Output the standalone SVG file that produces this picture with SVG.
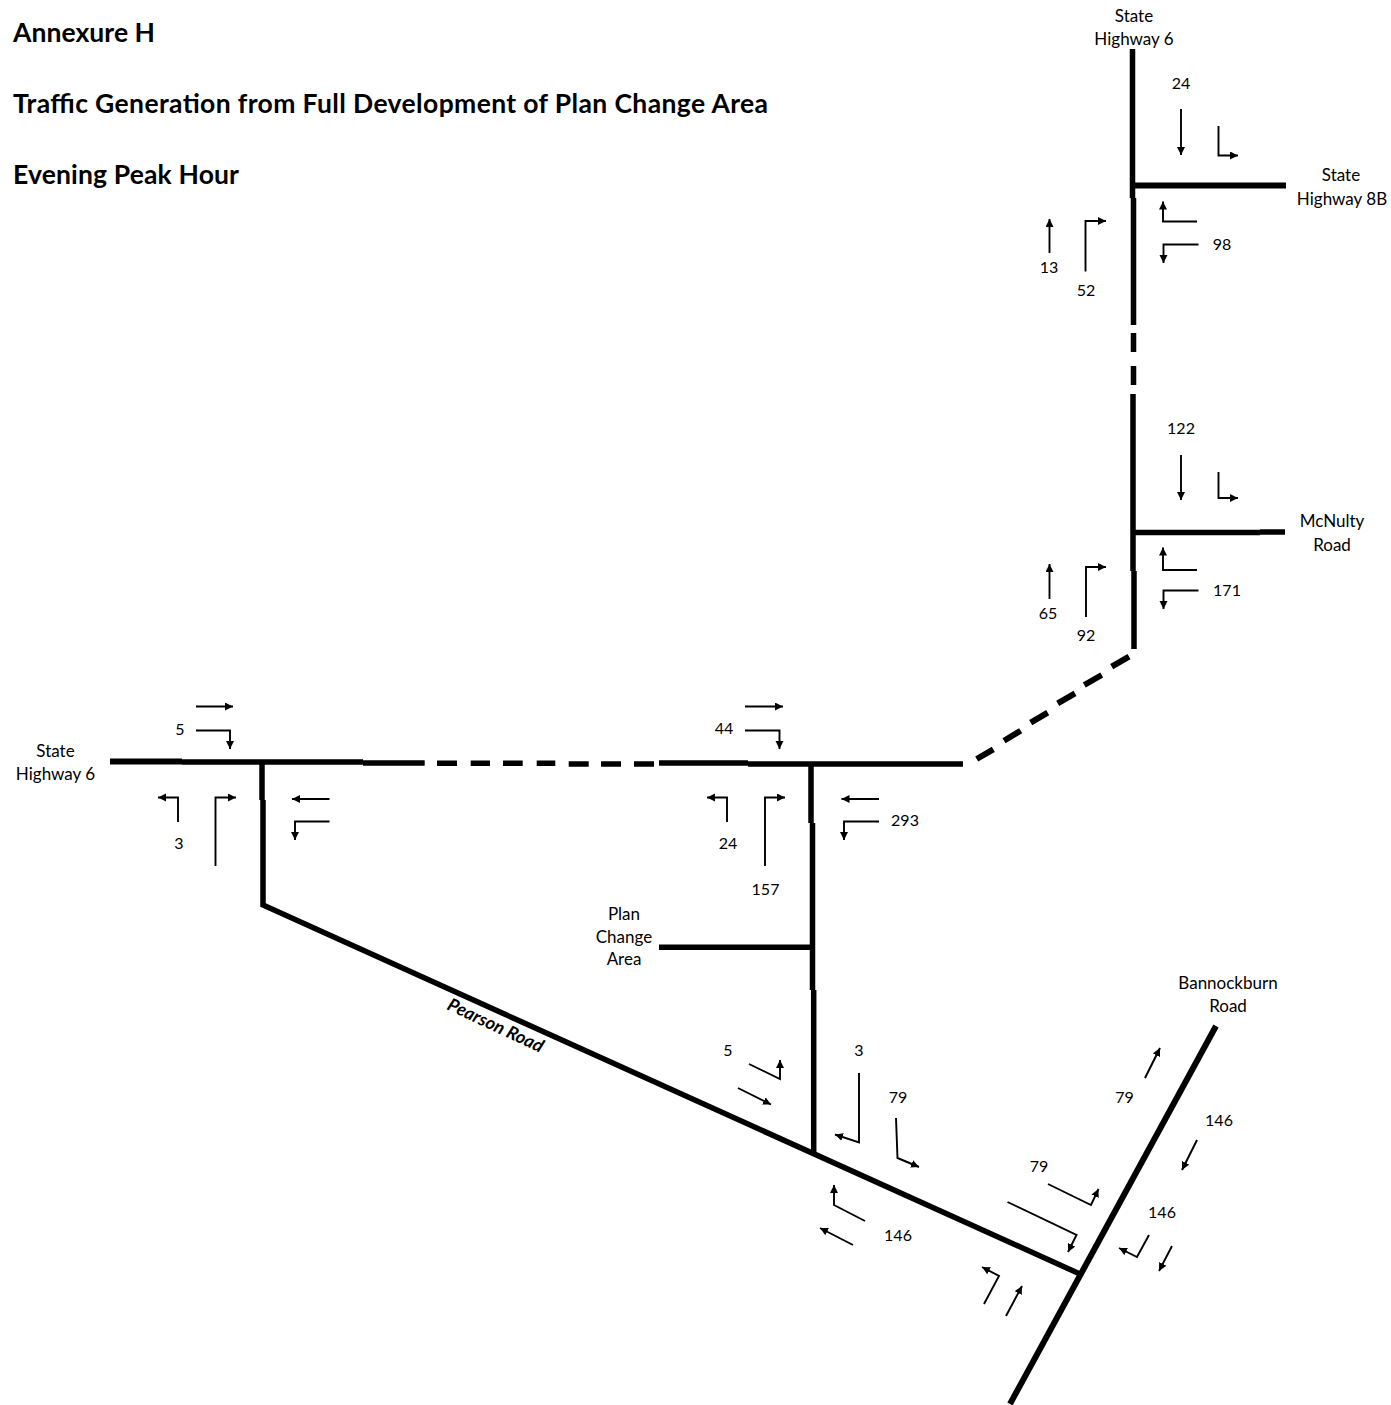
<svg xmlns="http://www.w3.org/2000/svg" width="1391" height="1405" viewBox="0 0 1391 1405">
<style>
text{font-family:"Lato","Open Sans","Liberation Sans",sans-serif;fill:#000}
.h{font-size:26.5px;font-weight:700}
.l{font-size:16px;text-anchor:middle}
.w{font-size:17px;text-anchor:middle}
.p{font-size:18px;font-weight:700;font-style:italic;text-anchor:middle}
.r{fill:none;stroke:#000;stroke-width:5.5}
.t{stroke-width:6}
.a{fill:none;stroke:#000;stroke-width:1.9;marker-end:url(#ah)}
</style>
<defs>
<marker id="ah" markerUnits="userSpaceOnUse" markerWidth="9" markerHeight="9" refX="8" refY="4" orient="auto"><path d="M0,0L8,4L0,8z" fill="#000"/></marker>
</defs>
<rect width="1391" height="1405" fill="#fff"/>
<g id="title">
<text class="h" x="13" y="42" textLength="142">Annexure H</text>
<text class="h" x="13" y="113" textLength="755">Traffic Generation from Full Development of Plan Change Area</text>
<text class="h" x="13" y="184" textLength="226">Evening Peak Hour</text>
</g>
<g id="connectors">
<path class="r" d="M1132.5,49V198M1133.5,198V325M1133.5,333V352M1133.5,366V385M1133,394V571M1134,571V649"/>
<path class="r t" d="M1133,185.5H1286"/>
<path class="r" d="M1133,532.5H1260M1260,532H1285"/>
<path class="r t" d="M976.7,759L993.3,749.3M1004,740.7L1020.7,730.7M1030.7,722.7L1047.7,712.7M1057.7,703.3L1075,693.3M1084.3,685L1101.7,675M1111.7,666.7L1129,656.7"/>
<path class="r t" d="M110,761.5H182"/>
<path class="r" d="M182,762H363M363,763H424.7M437,763.3H457M470.7,763.3H490M503,763.3H522.7M536.7,763.3H555.3M568.7,764H588.7M601,764H621M634,764H654M659,763H748M748,764H963"/>
<path class="r" d="M262,763V800M263,800V905L1080,1274"/>
<path class="r" d="M811,764V823M812.5,823V990M813.7,990V1153M659,947.3H812"/>
<path class="r t" d="M1216,1026L1010,1404"/>
</g>
<g id="junction-sh8b">
<path class="a" d="M1181,109V155"/>
<path class="a" d="M1218.5,126V155.5H1238"/>
<path class="a" d="M1197,221.5H1163V201.5"/>
<path class="a" d="M1198.5,244.5H1163.5V263"/>
<path class="a" d="M1049.5,253V219"/>
<path class="a" d="M1085.5,271.5V221H1106"/>
<text class="w" x="1134" y="22">State</text><text class="w" x="1134" y="45">Highway 6</text>
<text class="l" x="1181" y="89">24</text>
<text class="w" x="1341" y="181">State</text><text class="w" x="1342" y="205">Highway 8B</text>
<text class="l" x="1222" y="250">98</text><text class="l" x="1049" y="273">13</text><text class="l" x="1086" y="296">52</text>
</g>
<g id="junction-mcnulty">
<path class="a" d="M1181,455V500"/>
<path class="a" d="M1218.5,472V498H1238"/>
<path class="a" d="M1197,570H1163V547.5"/>
<path class="a" d="M1198.5,590.5H1163.5V609"/>
<path class="a" d="M1049.5,599V564"/>
<path class="a" d="M1086,617V567H1106"/>
<text class="l" x="1181" y="434">122</text>
<text class="w" x="1332" y="527">McNulty</text><text class="w" x="1332" y="550.5">Road</text>
<text class="l" x="1227" y="595.5">171</text><text class="l" x="1048" y="618.5">65</text><text class="l" x="1086" y="641">92</text>
</g>
<g id="junction-west">
<path class="a" d="M196,706.5H233"/>
<path class="a" d="M196,730.5H230V749"/>
<path class="a" d="M178,822V797.5H158"/>
<path class="a" d="M215.5,866V797.5H236"/>
<path class="a" d="M329.5,799H292"/>
<path class="a" d="M329.5,821.5H295V840"/>
<text class="l" x="180" y="734.5">5</text>
<text class="w" x="55.5" y="757">State</text><text class="w" x="55.5" y="780">Highway 6</text>
<text class="l" x="179" y="849">3</text>
</g>
<g id="junction-middle">
<path class="a" d="M745,706.5H783"/>
<path class="a" d="M745,730.5H779.5V749"/>
<path class="a" d="M727,822V797.5H707"/>
<path class="a" d="M765,866V797.5H785"/>
<path class="a" d="M879,799H841.5"/>
<path class="a" d="M879,821.5H844V840"/>
<text class="l" x="724" y="734">44</text><text class="l" x="728" y="849">24</text>
<text class="l" x="905" y="826">293</text><text class="l" x="765.5" y="895">157</text>
</g>
<g id="plan-change-area">
<text class="w" x="624" y="920">Plan</text><text class="w" x="624" y="943">Change</text><text class="w" x="624" y="965">Area</text>
</g>
<g id="pearson-road">
<text class="p" transform="translate(493,1031) rotate(25)">Pearson Road</text>
</g>
<g id="junction-pearson">
<path class="a" d="M749,1064L780,1079V1060"/>
<path class="a" d="M738,1088L771,1104.5"/>
<path class="a" d="M859,1073V1142.5L835,1134.5"/>
<path class="a" d="M896,1118L897.5,1158L919,1167"/>
<path class="a" d="M865,1221L834,1205V1185"/>
<path class="a" d="M853,1245L820,1228"/>
<text class="l" x="728" y="1056">5</text><text class="l" x="859" y="1056">3</text>
<text class="l" x="898" y="1103">79</text><text class="l" x="898" y="1241">146</text>
</g>
<g id="junction-bannockburn">
<path class="a" d="M1048,1184L1091,1205L1098.5,1189"/>
<path class="a" d="M1007.5,1202L1076.5,1235L1068,1252"/>
<path class="a" d="M984,1304L999,1276L982,1267"/>
<path class="a" d="M1006,1316L1022,1286"/>
<path class="a" d="M1145,1078L1160,1048"/>
<path class="a" d="M1197,1140L1182,1170"/>
<path class="a" d="M1149,1235L1137,1257L1119,1248"/>
<path class="a" d="M1172,1246L1159,1271"/>
<text class="w" x="1228" y="989">Bannockburn</text><text class="w" x="1228" y="1012">Road</text>
<text class="l" x="1124.5" y="1103">79</text><text class="l" x="1219" y="1126">146</text>
<text class="l" x="1039" y="1171.5">79</text><text class="l" x="1162" y="1218">146</text>
</g>
</svg>
